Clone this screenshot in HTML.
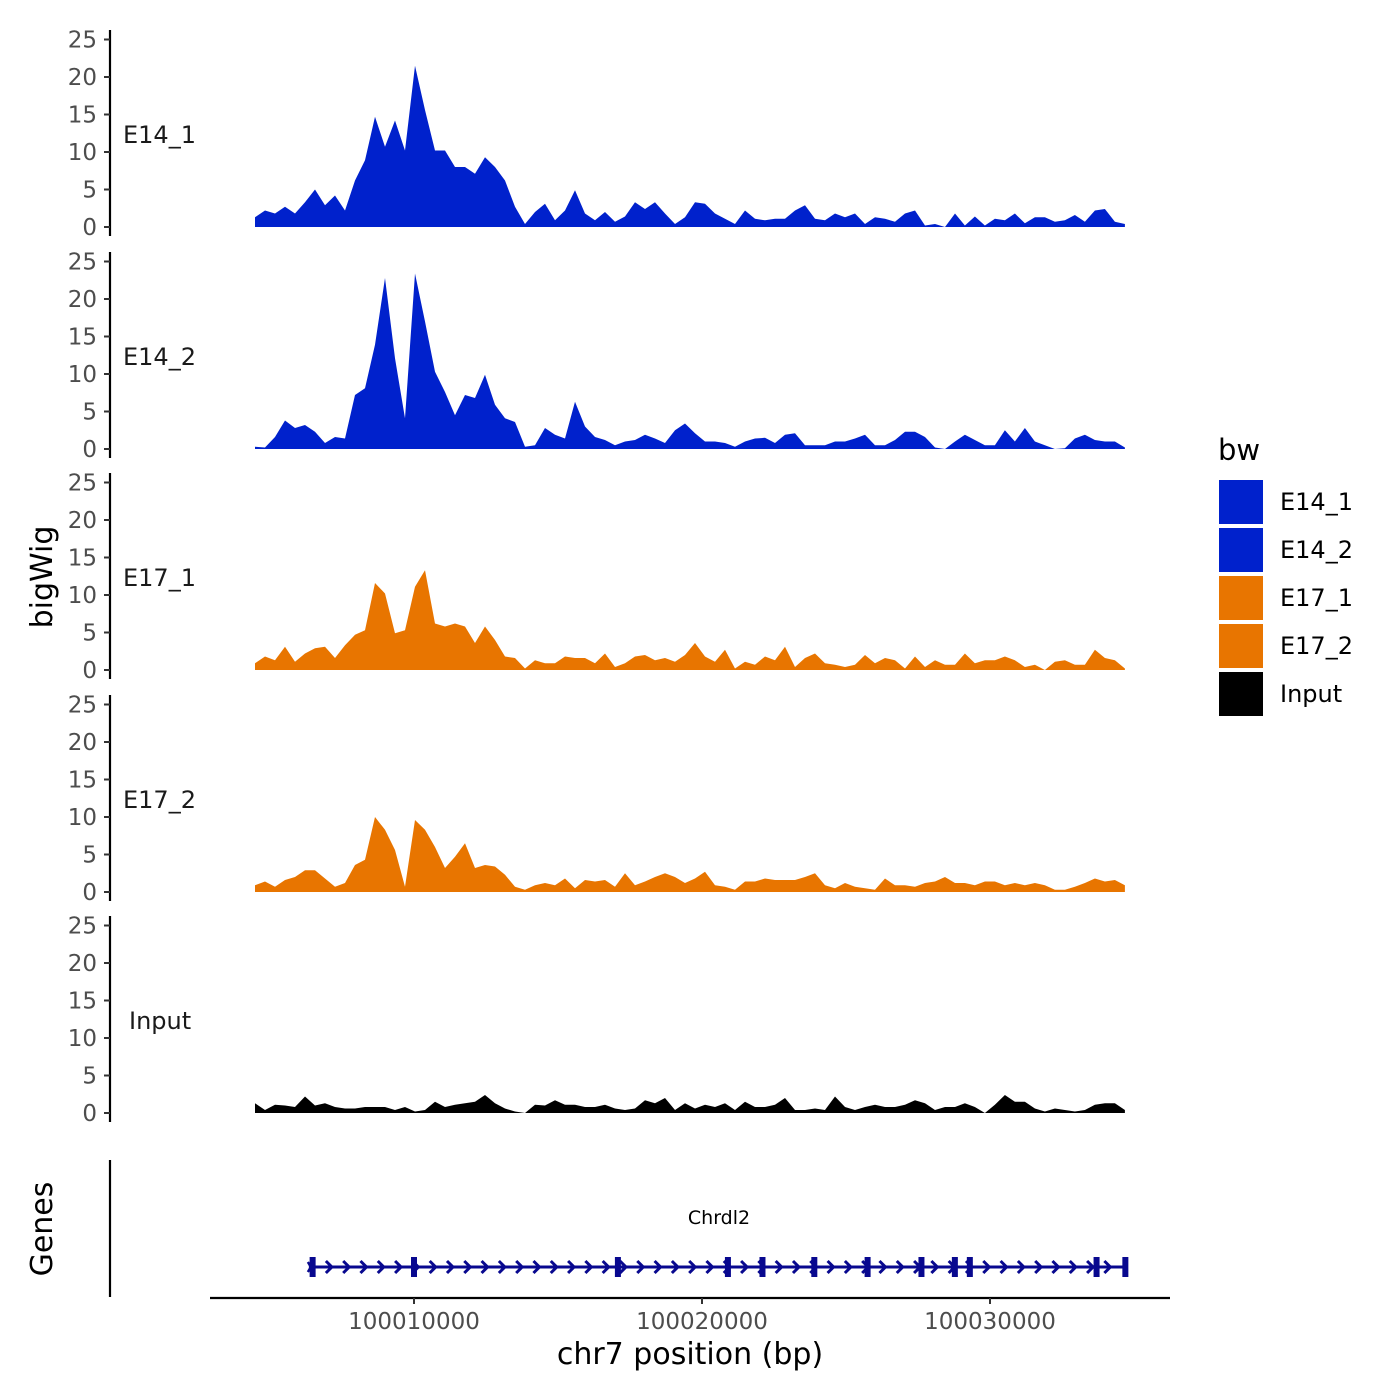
<!DOCTYPE html>
<html><head><meta charset="utf-8"><style>
html,body{margin:0;padding:0;background:#fff;}
svg{display:block;font-family:"DejaVu Sans","Liberation Sans",sans-serif;}
</style></head><body>
<svg id="chart" width="1400" height="1400" viewBox="0 0 1400 1400"></svg>
<script>
const trackNames = ["E14_1","E14_2","E17_1","E17_2","Input"];
const trackColors = ["#0021cc","#0021cc","#e87500","#e87500","#000000"];
const binStart = 100004479;
const binStep = 347.2;
const e14_1 = [1.3,2.2,1.8,2.7,1.8,3.3,5.0,2.9,4.2,2.2,6.2,8.9,14.7,10.7,14.2,10.2,21.5,15.6,10.2,10.2,8.0,8.0,7.1,9.3,8.0,6.2,2.7,0.4,2.0,3.1,0.9,2.2,4.9,1.8,0.9,2.0,0.7,1.4,3.3,2.4,3.3,1.8,0.4,1.3,3.3,3.1,1.8,1.1,0.4,2.2,1.1,0.9,1.1,1.1,2.2,2.9,1.1,0.9,1.8,1.3,1.8,0.4,1.3,1.1,0.7,1.8,2.2,0.2,0.4,0,1.8,0.2,1.4,0.2,1.1,0.9,1.8,0.5,1.3,1.3,0.7,0.9,1.6,0.7,2.2,2.4,0.7,0.4];
const e14_2 = [0.3,0.2,1.6,3.8,2.8,3.2,2.3,0.8,1.6,1.4,7.2,8.1,13.9,22.8,12.1,4.1,23.4,17.0,10.3,7.6,4.5,7.2,6.8,9.9,5.9,4.1,3.6,0.3,0.5,2.8,1.9,1.4,6.3,3.0,1.6,1.2,0.5,1.0,1.2,1.9,1.4,0.8,2.5,3.4,2.1,1.0,1.0,0.8,0.3,1.0,1.4,1.5,0.8,1.9,2.1,0.5,0.5,0.5,1.0,1.0,1.4,1.9,0.5,0.5,1.2,2.3,2.3,1.6,0.2,0,1.0,1.9,1.2,0.5,0.5,2.5,1.0,2.8,1.0,0.5,0,0.1,1.4,1.9,1.2,1.0,1.0,0.2];
const e17_1 = [0.9,1.8,1.3,3.1,1.1,2.2,2.9,3.1,1.6,3.3,4.7,5.3,11.6,10.2,4.9,5.3,11.1,13.3,6.2,5.8,6.2,5.8,3.6,5.8,4.0,1.8,1.6,0.2,1.3,0.9,0.9,1.8,1.6,1.6,0.9,2.2,0.4,0.9,1.8,2.0,1.3,1.6,1.1,2.0,3.6,1.8,1.1,2.7,0.2,1.1,0.7,1.8,1.3,3.1,0.4,1.6,2.2,0.9,0.7,0.4,0.7,2.0,0.9,1.6,1.3,0.2,1.8,0.4,1.3,0.7,0.7,2.2,0.9,1.3,1.3,1.8,1.3,0.4,0.7,0,1.1,1.3,0.7,0.7,2.7,1.6,1.3,0.2];
const e17_2 = [0.9,1.4,0.7,1.6,2.0,2.9,2.9,1.8,0.7,1.2,3.6,4.3,10.0,8.3,5.6,0.7,9.6,8.3,6.0,3.2,4.7,6.5,3.2,3.6,3.4,2.3,0.7,0.3,0.9,1.2,0.9,1.8,0.5,1.6,1.4,1.6,0.7,2.5,0.9,1.4,2.0,2.5,2.0,1.2,1.8,2.7,0.9,0.7,0.3,1.4,1.4,1.8,1.6,1.6,1.6,2.0,2.5,0.9,0.5,1.2,0.7,0.5,0.3,1.8,0.9,0.9,0.7,1.2,1.4,2.0,1.2,1.2,0.9,1.4,1.4,0.9,1.2,0.9,1.2,0.9,0.3,0.3,0.7,1.2,1.8,1.4,1.6,0.9];
const input = [1.3,0.4,1.1,1.0,0.8,2.2,1.0,1.3,0.8,0.6,0.6,0.8,0.8,0.8,0.4,0.8,0.2,0.4,1.5,0.8,1.1,1.3,1.5,2.4,1.3,0.6,0.2,0,1.1,1.0,1.7,1.1,1.1,0.8,0.8,1.1,0.6,0.4,0.6,1.7,1.3,2.0,0.4,1.3,0.6,1.1,0.8,1.3,0.4,1.5,0.8,0.8,1.1,2.0,0.4,0.4,0.6,0.4,2.2,0.8,0.4,0.8,1.1,0.8,0.8,1.1,1.7,1.3,0.4,0.8,0.8,1.3,0.8,0,1.1,2.4,1.5,1.5,0.6,0.2,0.6,0.4,0.2,0.4,1.1,1.3,1.3,0.4];
const yTicks = [0,5,10,15,20,25];
const xTicks = [100010000,100020000,100030000];
const geneName = "Chrdl2";
const geneStart = 100006350, geneEnd = 100034760;
const exons = [100006480,100010000,100017080,100020900,100022100,100023900,100025750,100027620,100028780,100029300,100033700,100034700];

const series = [e14_1,e14_2,e17_1,e17_2,input];
const svg = document.getElementById('chart');
const NS = "http://www.w3.org/2000/svg";
function mk(tag, attrs, parent){const e=document.createElementNS(NS,tag);for(const k in attrs)e.setAttribute(k,attrs[k]);(parent||svg).appendChild(e);return e;}
function xs(bp){return 414 + (bp-100010000)*0.0288;}
const zeroYs = [227,449,670,892,1113];
function ys(p,v){return zeroYs[p] - v*7.5;}

series.forEach((vals,p)=>{
  const g = mk('g',{});
  
  
  const ax = mk('line',{x1:110,x2:110,y1:zeroYs[p]-197,y2:zeroYs[p]+9,stroke:'#000','stroke-width':2.2},g);
  
  
  yTicks.forEach(t=>{
    const y = ys(p,t);
    const tk = mk('line',{x1:104,x2:110,y1:y,y2:y,stroke:'#333','stroke-width':2},g);
    
    
    const tx = mk('text',{x:97,y:y+8,'text-anchor':'end','font-size':23,fill:'#4d4d4d'},g);
    tx.textContent = t;
    
    
  });
  let d = 'M'+xs(binStart).toFixed(1)+','+zeroYs[p];
  vals.forEach((v,i)=>{ d += ' L'+xs(binStart+i*binStep).toFixed(1)+','+ys(p,v).toFixed(1); });
  d += ' L'+xs(binStart+(vals.length-1)*binStep).toFixed(1)+','+zeroYs[p]+' Z';
  const ar = mk('path',{d:d,fill:trackColors[p]},g);
  
  
  const lb = mk('text',{x:trackNames[p]==='Input'?129:123,y:zeroYs[p]-84,'font-size':24,fill:'#1a1a1a'},g);
  lb.textContent = trackNames[p];
  
  
});

const yt = mk('text',{x:0,y:0,'font-size':30,fill:'#000','text-anchor':'middle',transform:'translate(52,577) rotate(-90)'});
yt.textContent='bigWig';



const gl = mk('line',{x1:110,x2:110,y1:1160,y2:1297,stroke:'#000','stroke-width':2.2});


const gt = mk('text',{x:0,y:0,'font-size':30,fill:'#000','text-anchor':'middle',transform:'translate(52,1229) rotate(-90)'});
gt.textContent='Genes';


const gn = mk('text',{x:719,y:1224,'font-size':19,fill:'#000','text-anchor':'middle'});
gn.textContent=geneName;


const gline = mk('line',{x1:xs(geneStart),x2:xs(geneEnd),y1:1267,y2:1267,stroke:'#08088f','stroke-width':3});


const xm = mk('path',{d:`M${xs(geneStart)-1},1262 L${xs(geneStart)+5},1272 M${xs(geneStart)-1},1272 L${xs(geneStart)+5},1262`,stroke:'#08088f','stroke-width':2.5,fill:'none'});


for(let x=xs(geneStart)+20;x<xs(geneEnd)-4;x+=17.3){
  const c = mk('path',{d:`M${x-3},1261 L${x+3},1267 L${x-3},1273`,fill:'none',stroke:'#08088f','stroke-width':3});
  
  
}
exons.forEach(b=>{
  const r = mk('rect',{x:xs(b)-3,y:1257,width:6,height:20,fill:'#08088f'});
  
  
});

const xa = mk('line',{x1:210,x2:1170,y1:1298,y2:1298,stroke:'#000','stroke-width':2.2});


xTicks.forEach(t=>{
  const x = xs(t);
  const tk = mk('line',{x1:x,x2:x,y1:1298,y2:1304,stroke:'#333','stroke-width':2});
  
  
  const tx = mk('text',{x:x,y:1329,'font-size':23,fill:'#4d4d4d','text-anchor':'middle'});
  tx.textContent=t;
  
  
});
const xt = mk('text',{x:690,y:1364,'font-size':30,fill:'#000','text-anchor':'middle'});
xt.textContent='chr7 position (bp)';



const lt = mk('text',{x:1218,y:460,'font-size':29,fill:'#000'});
lt.textContent='bw';


trackNames.forEach((n,i)=>{
  const y = 480 + i*48;
  const r = mk('rect',{x:1219,y:y,width:44,height:44,fill:trackColors[i]});
  
  
  const t = mk('text',{x:1280,y:y+30,'font-size':24,fill:'#000'});
  t.textContent=n;
  
  
});
</script>
</body></html>
